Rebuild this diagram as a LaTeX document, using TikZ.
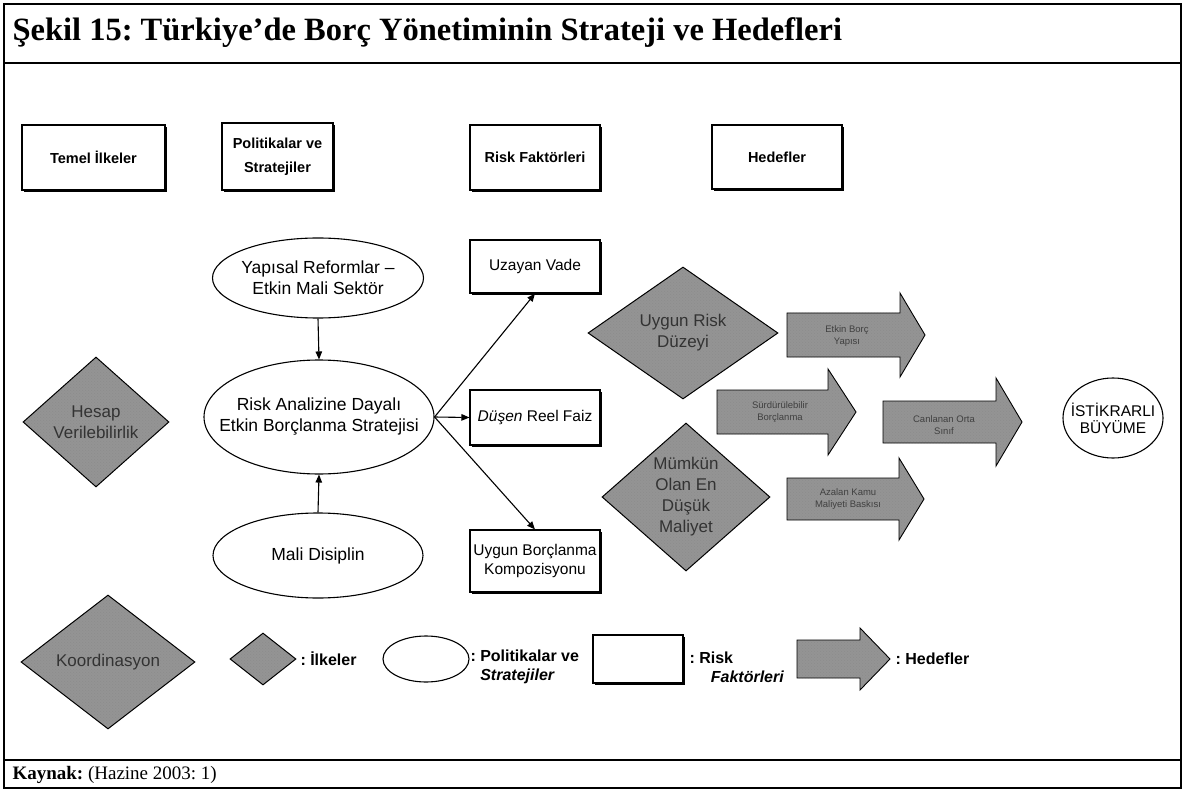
\documentclass[tikz,border=0pt]{standalone}
\usepackage{fontspec}
\setmainfont{Liberation Sans}
\newfontfamily\serifface{Liberation Serif}
\usetikzlibrary{shapes.geometric,arrows.meta,shadows,patterns}
\definecolor{hatchgray}{gray}{0.58}
\frenchspacing
\begin{document}
\begin{tikzpicture}[x=1pt,y=-1pt,
  every node/.style={font=\fontsize{15.5}{19}\selectfont},
  frame/.style={line width=1.2pt},
  hbox/.style={draw, rectangle, line width=1.1pt, fill=white, inner sep=0pt, align=center,
    drop shadow={shadow xshift=1.6pt, shadow yshift=-1.6pt, fill=black, opacity=1},
    font=\bfseries\fontsize{14.5}{24}\selectfont},
  rbox/.style={draw, rectangle, line width=1.1pt, fill=white, inner sep=0pt, align=center,
    drop shadow={shadow xshift=1.6pt, shadow yshift=-1.6pt, fill=black, opacity=1}},
  ell/.style={draw, ellipse, line width=1.1pt, fill=white, inner sep=0pt},
  etext/.style={align=center, font=\fontsize{17.5}{21}\selectfont},
  dia/.style={draw, diamond, line width=1pt, inner sep=0pt, preaction={fill=hatchgray},
    pattern=crosshatch dots, pattern color=black!45},
  blk/.style={draw, line width=0.9pt, preaction={fill=hatchgray}, pattern=crosshatch dots, pattern color=black!45},
  dtext/.style={align=center, text=black!80, font=\fontsize{17}{21}\selectfont},
  atext/.style={align=center, text=black!75, font=\fontsize{9.5}{12}\selectfont},
  legtext/.style={anchor=west, align=left, font=\bfseries\fontsize{16}{19}\selectfont},
  conn/.style={line width=1.1pt, -{Triangle[length=8pt,width=6.5pt]}}
]
\useasboundingbox (0,0) rectangle (1185,791);
% outer frame
\draw[frame] (4,4) rectangle (1181,788);
\draw[frame] (4,63) -- (1181,63);
\draw[frame] (4,760) -- (1181,760);
\node[anchor=west, font=\serifface\bfseries\fontsize{32.5}{35}\selectfont] (title) at (9,33)
  {Şekil 15: Türkiye’de Borç Yönetiminin Strateji ve Hedefleri};
\node[anchor=west, font=\serifface\fontsize{19}{21}\selectfont] (kaynak) at (9,775)
  {\textbf{Kaynak:} (Hazine 2003: 1)};

% header boxes
\node[hbox, minimum width=143pt, minimum height=65pt] (htemel) at (93.5,157.5) {Temel İlkeler};
\node[hbox, minimum width=111pt, minimum height=67pt] (hpol) at (277.5,156.5) {Politikalar ve\\Stratejiler};
\node[hbox, minimum width=130pt, minimum height=65pt] (hrisk) at (535,157.5) {Risk Faktörleri};
\node[hbox, minimum width=130pt, minimum height=64pt] (hhedef) at (777,157) {Hedefler};

% principles (diamonds)
\node[dia, minimum width=146pt, minimum height=130pt,
  label={[dtext]center:Hesap\\Verilebilirlik}] (hesap) at (96,422) {};
\node[dia, minimum width=174pt, minimum height=134pt,
  label={[dtext]center:Koordinasyon}] (koord) at (108,662) {};
\node[dia, minimum width=190pt, minimum height=132pt,
  label={[dtext]center:Uygun Risk\\Düzeyi}] (urisk) at (683,333) {};
\node[dia, minimum width=168pt, minimum height=148pt,
  label={[dtext]center:Mümkün\\Olan En\\Düşük\\Maliyet}] (mumkun) at (686,497) {};

% policies (ellipses)
\node[ell, minimum width=211pt, minimum height=80pt,
  label={[etext]center:Yapısal Reformlar –\\Etkin Mali Sektör}] (yapisal) at (318,278) {};
\node[ell, minimum width=230pt, minimum height=114pt,
  label={[etext]center:Risk Analizine Dayalı\\Etkin Borçlanma Stratejisi}] (strat) at (319,417) {};
\node[ell, minimum width=210pt, minimum height=85pt,
  label={[etext]center:Mali Disiplin}] (mali) at (318,555.5) {};

% risk factors (boxes)
\node[rbox, minimum width=130pt, minimum height=53pt] (uzayan) at (535,266.5) {Uzayan Vade};
\node[rbox, minimum width=130pt, minimum height=55pt] (dusen) at (535,417.5) {\textit{Düşen} Reel Faiz};
\node[rbox, minimum width=130pt, minimum height=62pt] (uygun) at (535,561) {Uygun Borçlanma\\Kompozisyonu};

% connectors
\draw[conn] (yapisal.south) -- (strat.north);
\draw[conn] (mali.north) -- (strat.south);
\draw[conn] (strat.east) -- (uzayan.south);
\draw[conn] (strat.east) -- (dusen.west);
\draw[conn] (strat.east) -- (uygun.north);

% targets (block arrows)
\path[blk] (787,313) -- (900,313) -- (900,293) -- (925,335) -- (900,377) -- (900,357) -- (787,357) -- cycle;
\node[atext] (t1) at (847,336) {Etkin Borç\\Yapısı};
\path[blk] (717,390) -- (828,390) -- (828,369) -- (856,412) -- (828,455) -- (828,434) -- (717,434) -- cycle;
\node[atext] (t2) at (780,412) {Sürdürülebilir\\Borçlanma};
\path[blk] (883,401) -- (996,401) -- (996,378) -- (1022,422) -- (996,466) -- (996,443) -- (883,443) -- cycle;
\node[atext] (t3) at (944,425) {Canlanan Orta\\Sınıf};
\path[blk] (787,478) -- (899,478) -- (899,458) -- (924,499) -- (899,540) -- (899,520) -- (787,520) -- cycle;
\node[atext] (t4) at (848,499) {Azalan Kamu\\Maliyeti Baskısı};

% final goal
\node[ell, minimum width=100pt, minimum height=80pt,
  label={[align=center, font=\fontsize{15.5}{17}\selectfont]center:İSTİKRARLI\\BÜYÜME}] (istikrar) at (1113,418) {};

% legend
\node[dia, minimum width=66pt, minimum height=52pt] (ldia) at (263,659) {};
\node[legtext] (lilke) at (297,659) {: İlkeler};
\node[ell, minimum width=86pt, minimum height=46pt] (lell) at (426,659) {};
\node[legtext] (lpol) at (467,667) {: Politikalar ve\\\hphantom{: }\textit{Stratejiler}};
\node[rbox, minimum width=90pt, minimum height=48pt] (lbox) at (638,659) {};
\node[legtext] (lrisk) at (686,667) {: Risk\\\hphantom{: R}\textit{Faktörleri}};
\path[blk] (797,640) -- (860,640) -- (860,628) -- (890,659) -- (860,690) -- (860,678) -- (797,678) -- cycle;
\node[legtext] (lhedef) at (892,659) {: Hedefler};
\end{tikzpicture}
\end{document}
